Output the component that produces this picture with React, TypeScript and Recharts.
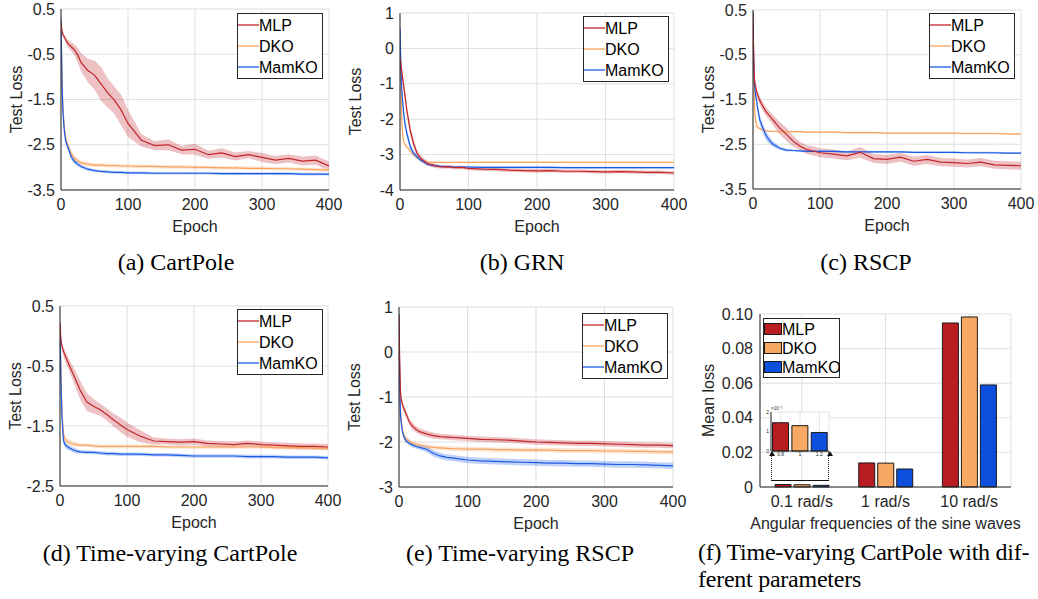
import React from "react";
import {
  ComposedChart,
  BarChart,
  Bar,
  Cell,
  Line,
  Area,
  XAxis,
  YAxis,
  CartesianGrid,
  Legend,
} from "recharts";

// sampled epochs shared by every training curve
const epochs = [0, 1, 2, 3, 5, 7, 10, 15, 20, 25, 30, 40, 50, 60, 70, 80, 90, 100, 120, 140, 160, 180, 200, 220, 240, 260, 280, 300, 320, 340, 360, 380, 400];
const epochTicks = [0, 100, 200, 300, 400];

// (a) CartPole  (mean and half width of the shaded band)
const aMlp = [0.22, 0.06, -0.02, -0.07, -0.12, -0.18, -0.26, -0.33, -0.4, -0.52, -0.68, -0.86, -0.96, -1.16, -1.36, -1.52, -1.74, -2.03, -2.4, -2.52, -2.5, -2.62, -2.6, -2.72, -2.68, -2.76, -2.72, -2.78, -2.84, -2.8, -2.86, -2.84, -2.97];
const aMlpW = [0.02, 0.03, 0.04, 0.05, 0.06, 0.07, 0.08, 0.1, 0.12, 0.16, 0.2, 0.26, 0.32, 0.38, 0.32, 0.3, 0.34, 0.3, 0.14, 0.1, 0.12, 0.09, 0.12, 0.09, 0.1, 0.09, 0.08, 0.1, 0.09, 0.09, 0.1, 0.1, 0.1];
const aDko = [0.2, -0.6, -1.3, -1.7, -2.1, -2.35, -2.5, -2.69, -2.8, -2.86, -2.9, -2.93, -2.95, -2.95, -2.96, -2.96, -2.97, -2.97, -2.98, -2.98, -2.99, -2.99, -3.0, -3.0, -3.01, -3.01, -3.02, -3.02, -3.03, -3.03, -3.04, -3.05, -3.06];
const aDkoW = [0.02, 0.08, 0.1, 0.1, 0.09, 0.08, 0.07, 0.06, 0.06, 0.05, 0.05, 0.05, 0.04, 0.04, 0.04, 0.04, 0.04, 0.04, 0.04, 0.04, 0.04, 0.04, 0.04, 0.04, 0.04, 0.04, 0.04, 0.04, 0.04, 0.04, 0.04, 0.04, 0.04];
const aMam = [0.3, -0.7, -1.4, -1.8, -2.2, -2.42, -2.54, -2.76, -2.87, -2.93, -2.98, -3.04, -3.07, -3.09, -3.1, -3.11, -3.11, -3.12, -3.12, -3.13, -3.13, -3.13, -3.13, -3.13, -3.14, -3.14, -3.14, -3.14, -3.14, -3.14, -3.15, -3.15, -3.15];
const aMamW = [0.02, 0.08, 0.1, 0.1, 0.09, 0.08, 0.07, 0.06, 0.05, 0.05, 0.04, 0.04, 0.03, 0.03, 0.03, 0.03, 0.03, 0.03, 0.03, 0.03, 0.03, 0.03, 0.03, 0.03, 0.03, 0.03, 0.03, 0.03, 0.03, 0.03, 0.03, 0.03, 0.03];

// (b) GRN
const bMlp = [-0.24, -0.4, -0.55, -0.7, -1.0, -1.3, -1.75, -2.32, -2.7, -2.97, -3.1, -3.25, -3.31, -3.35, -3.34, -3.37, -3.36, -3.39, -3.41, -3.42, -3.44, -3.45, -3.46, -3.45, -3.47, -3.47, -3.48, -3.49, -3.48, -3.49, -3.5, -3.5, -3.52];
const bMlpW = [0.05, 0.08, 0.1, 0.12, 0.14, 0.15, 0.15, 0.14, 0.12, 0.1, 0.08, 0.07, 0.06, 0.05, 0.05, 0.05, 0.05, 0.05, 0.05, 0.05, 0.05, 0.05, 0.05, 0.05, 0.05, 0.05, 0.05, 0.05, 0.05, 0.05, 0.05, 0.05, 0.05];
const bDko = [0.3, -0.8, -1.6, -2.2, -2.62, -2.7, -2.78, -2.9, -3.01, -3.09, -3.15, -3.21, -3.22, -3.22, -3.22, -3.22, -3.22, -3.22, -3.22, -3.22, -3.22, -3.22, -3.22, -3.22, -3.22, -3.22, -3.22, -3.22, -3.22, -3.22, -3.22, -3.22, -3.22];
const bDkoW = [0.02, 0.06, 0.08, 0.08, 0.06, 0.05, 0.04, 0.03, 0.03, 0.03, 0.02, 0.02, 0.02, 0.02, 0.02, 0.02, 0.02, 0.02, 0.02, 0.02, 0.02, 0.02, 0.02, 0.02, 0.02, 0.02, 0.02, 0.02, 0.02, 0.02, 0.02, 0.02, 0.02];
const bMam = [0.57, -0.3, -0.9, -1.3, -1.75, -2.1, -2.4, -2.78, -2.97, -3.07, -3.15, -3.27, -3.31, -3.33, -3.34, -3.35, -3.35, -3.35, -3.36, -3.36, -3.36, -3.36, -3.36, -3.36, -3.37, -3.37, -3.37, -3.37, -3.37, -3.37, -3.37, -3.37, -3.37];
const bMamW = [0.05, 0.1, 0.12, 0.12, 0.12, 0.12, 0.12, 0.1, 0.08, 0.06, 0.05, 0.04, 0.03, 0.03, 0.03, 0.03, 0.03, 0.03, 0.03, 0.03, 0.03, 0.03, 0.03, 0.03, 0.03, 0.03, 0.03, 0.03, 0.03, 0.03, 0.03, 0.03, 0.03];

// (c) RSCP
const cMlp = [0.4, -0.5, -1.0, -1.15, -1.3, -1.4, -1.52, -1.66, -1.78, -1.87, -1.96, -2.14, -2.28, -2.43, -2.54, -2.62, -2.65, -2.69, -2.72, -2.76, -2.68, -2.82, -2.84, -2.79, -2.88, -2.84, -2.9, -2.91, -2.93, -2.9, -2.96, -2.97, -2.98];
const cMlpW = [0.03, 0.08, 0.1, 0.1, 0.1, 0.1, 0.1, 0.1, 0.1, 0.1, 0.12, 0.14, 0.15, 0.12, 0.1, 0.1, 0.1, 0.1, 0.1, 0.1, 0.12, 0.1, 0.1, 0.1, 0.1, 0.1, 0.09, 0.09, 0.09, 0.09, 0.09, 0.09, 0.09];
const cDko = [0.3, -0.7, -1.5, -1.85, -2.07, -2.12, -2.15, -2.18, -2.2, -2.21, -2.21, -2.22, -2.22, -2.22, -2.22, -2.23, -2.23, -2.23, -2.23, -2.24, -2.24, -2.24, -2.25, -2.25, -2.25, -2.25, -2.25, -2.25, -2.26, -2.26, -2.26, -2.27, -2.27];
const cDkoW = [0.02, 0.06, 0.08, 0.06, 0.04, 0.03, 0.02, 0.02, 0.02, 0.02, 0.02, 0.02, 0.02, 0.02, 0.02, 0.02, 0.02, 0.02, 0.02, 0.02, 0.02, 0.02, 0.02, 0.02, 0.02, 0.02, 0.02, 0.02, 0.02, 0.02, 0.02, 0.02, 0.02];
const cMam = [0.45, -0.6, -1.13, -1.3, -1.5, -1.7, -1.95, -2.15, -2.32, -2.42, -2.5, -2.59, -2.63, -2.64, -2.65, -2.66, -2.66, -2.66, -2.66, -2.67, -2.67, -2.67, -2.67, -2.67, -2.68, -2.68, -2.68, -2.68, -2.69, -2.69, -2.69, -2.7, -2.7];
const cMamW = [0.03, 0.08, 0.1, 0.1, 0.1, 0.1, 0.11, 0.11, 0.1, 0.08, 0.06, 0.04, 0.03, 0.02, 0.02, 0.02, 0.02, 0.02, 0.02, 0.02, 0.02, 0.02, 0.02, 0.02, 0.02, 0.02, 0.02, 0.02, 0.02, 0.02, 0.02, 0.02, 0.02];

// (d) Time-varying CartPole
const dMlp = [0.22, 0.0, -0.11, -0.17, -0.25, -0.31, -0.39, -0.52, -0.64, -0.77, -0.9, -1.1, -1.17, -1.23, -1.31, -1.4, -1.48, -1.56, -1.67, -1.75, -1.76, -1.77, -1.76, -1.79, -1.8, -1.81, -1.79, -1.81, -1.82, -1.83, -1.84, -1.84, -1.85];
const dMlpW = [0.02, 0.04, 0.05, 0.06, 0.07, 0.08, 0.09, 0.1, 0.12, 0.14, 0.16, 0.15, 0.12, 0.1, 0.1, 0.11, 0.12, 0.12, 0.1, 0.06, 0.05, 0.05, 0.05, 0.05, 0.05, 0.05, 0.05, 0.05, 0.05, 0.05, 0.05, 0.05, 0.05];
const dDko = [0.2, -0.4, -0.9, -1.25, -1.62, -1.7, -1.76, -1.78, -1.8, -1.81, -1.82, -1.82, -1.83, -1.84, -1.84, -1.84, -1.84, -1.84, -1.84, -1.84, -1.85, -1.85, -1.85, -1.85, -1.85, -1.85, -1.85, -1.85, -1.86, -1.86, -1.86, -1.87, -1.87];
const dDkoW = [0.02, 0.06, 0.08, 0.08, 0.07, 0.06, 0.05, 0.05, 0.04, 0.04, 0.03, 0.03, 0.03, 0.03, 0.03, 0.03, 0.03, 0.03, 0.03, 0.03, 0.03, 0.03, 0.03, 0.03, 0.03, 0.03, 0.03, 0.03, 0.03, 0.03, 0.03, 0.03, 0.03];
const dMam = [0.2, -0.5, -1.0, -1.35, -1.73, -1.8, -1.84, -1.87, -1.9, -1.92, -1.93, -1.94, -1.94, -1.95, -1.96, -1.96, -1.97, -1.97, -1.97, -1.98, -1.98, -1.99, -2.0, -2.0, -2.0, -2.0, -2.01, -2.01, -2.01, -2.02, -2.02, -2.02, -2.03];
const dMamW = [0.02, 0.06, 0.08, 0.08, 0.06, 0.05, 0.05, 0.04, 0.04, 0.04, 0.03, 0.03, 0.03, 0.03, 0.03, 0.03, 0.03, 0.03, 0.03, 0.03, 0.03, 0.03, 0.03, 0.03, 0.03, 0.03, 0.03, 0.03, 0.03, 0.03, 0.03, 0.03, 0.03];

// (e) Time-varying RSCP
const eMlp = [0.8, -0.2, -0.84, -1.02, -1.17, -1.25, -1.36, -1.55, -1.66, -1.72, -1.77, -1.82, -1.86, -1.88, -1.89, -1.9, -1.91, -1.92, -1.94, -1.95, -1.96, -1.98, -2.0, -2.01, -2.02, -2.03, -2.03, -2.04, -2.05, -2.06, -2.07, -2.07, -2.08];
const eMlpW = [0.02, 0.06, 0.08, 0.08, 0.08, 0.08, 0.08, 0.08, 0.08, 0.07, 0.07, 0.07, 0.07, 0.06, 0.06, 0.06, 0.06, 0.06, 0.06, 0.06, 0.06, 0.06, 0.06, 0.06, 0.06, 0.06, 0.06, 0.06, 0.06, 0.06, 0.06, 0.06, 0.06];
const eDko = [0.8, -0.5, -1.2, -1.45, -1.73, -1.84, -1.92, -1.98, -2.03, -2.05, -2.07, -2.1, -2.12, -2.13, -2.14, -2.15, -2.15, -2.16, -2.16, -2.17, -2.17, -2.18, -2.18, -2.18, -2.19, -2.19, -2.19, -2.2, -2.2, -2.21, -2.21, -2.22, -2.22];
const eDkoW = [0.02, 0.06, 0.08, 0.08, 0.07, 0.06, 0.05, 0.05, 0.05, 0.05, 0.05, 0.05, 0.05, 0.05, 0.05, 0.05, 0.05, 0.05, 0.05, 0.05, 0.05, 0.05, 0.05, 0.05, 0.05, 0.05, 0.05, 0.05, 0.05, 0.05, 0.05, 0.05, 0.05];
const eMam = [0.85, -0.6, -1.36, -1.55, -1.77, -1.88, -1.97, -2.03, -2.07, -2.1, -2.12, -2.16, -2.25, -2.31, -2.34, -2.36, -2.38, -2.4, -2.42, -2.43, -2.44, -2.45, -2.46, -2.47, -2.47, -2.48, -2.48, -2.49, -2.5, -2.5, -2.51, -2.52, -2.53];
const eMamW = [0.02, 0.06, 0.08, 0.08, 0.07, 0.06, 0.05, 0.05, 0.05, 0.05, 0.05, 0.06, 0.07, 0.07, 0.07, 0.07, 0.07, 0.07, 0.07, 0.07, 0.07, 0.07, 0.07, 0.07, 0.07, 0.07, 0.07, 0.07, 0.07, 0.07, 0.07, 0.07, 0.07];

// (f) mean loss per sine-wave frequency
const freqs = ["0.1 rad/s", "1 rad/s", "10 rad/s"];
const barMlp = [0.00145, 0.0139, 0.0948];
const barDko = [0.0013, 0.0138, 0.0983];
const barMam = [0.00095, 0.0104, 0.059];
const insetTicks = ["0.8", "1", "1.2"];

const ink = "#262626";
const gridColor = "#dfdfdf";
const sans = "'Liberation Sans', Arial, Helvetica, sans-serif";
const serif = "'Liberation Serif', 'Times New Roman', serif";
const lineColors = { mlp: "#c3252b", dko: "#f9a35e", mamko: "#1a5be6" };
const barColors = { mlp: "#b81d22", dko: "#f7a963", mamko: "#0b4fdc" };
const names = { mlp: "MLP", dko: "DKO", mamko: "MamKO" };
const keys: ("mlp" | "dko" | "mamko")[] = ["mlp", "dko", "mamko"];

const LEFT = 62;
const TOP = 12;
const RIGHT = 24;
const BOTTOM = 50;

function buildRows(mlp: number[], mlpW: number[], dko: number[], dkoW: number[], mam: number[], mamW: number[]) {
  return epochs.map((epoch, i) => ({
    epoch,
    mlp: mlp[i],
    dko: dko[i],
    mamko: mam[i],
    mlpBand: [mlp[i] - mlpW[i], mlp[i] + mlpW[i]],
    dkoBand: [dko[i] - dkoW[i], dko[i] + dkoW[i]],
    mamkoBand: [mam[i] - mamW[i], mam[i] + mamW[i]],
  }));
}

const xLabel = (text: string) => (props: any) => {
  const vb = props.viewBox;
  return (
    <text x={vb.x + vb.width / 2} y={vb.y + 42} textAnchor="middle" fontSize={16} fill={ink} fontFamily={sans}>
      {text}
    </text>
  );
};

const yLabel = (text: string, dist: number) => (props: any) => {
  const vb = props.viewBox;
  const cx = vb.x + vb.width - dist;
  const cy = vb.y + vb.height / 2;
  return (
    <text x={cx} y={cy} transform={`rotate(-90 ${cx} ${cy})`} textAnchor="middle" dominantBaseline="central" fontSize={16} fill={ink} fontFamily={sans}>
      {text}
    </text>
  );
};

// legend drawn as svg so the line samples keep their colours
const LineLegendBox = () => (
  <svg width={86} height={66} style={{ display: "block", fontFamily: sans }}>
    <rect x={0.5} y={0.5} width={85} height={65} fill="#fff" stroke={ink} />
    {keys.map((k, i) => (
      <g key={k}>
        <line x1={1} x2={22} y1={12 + i * 21} y2={12 + i * 21} stroke={lineColors[k]} strokeWidth={1.3} />
        <text x={22} y={12 + i * 21} dominantBaseline="central" fontSize={16} fill="#000">
          {names[k]}
        </text>
      </g>
    ))}
  </svg>
);

const BarLegendBox = () => (
  <svg width={77} height={60} style={{ display: "block", fontFamily: sans }}>
    <rect x={0.5} y={0.5} width={76} height={59} fill="#fff" stroke={ink} />
    {keys.map((k, i) => (
      <g key={k}>
        <rect x={1.5} y={5.5 + i * 19} width={17} height={11} fill={barColors[k]} stroke="#1a1a1a" />
        <text x={19} y={11 + i * 19} dominantBaseline="central" fontSize={16} fill="#000">
          {names[k]}
        </text>
      </g>
    ))}
  </svg>
);

interface PanelProps {
  rows: any[];
  x: number;
  y: number;
  w: number;
  h: number;
  yDomain: [number, number];
  yTicks: number[];
  lx: number;
  ly: number;
}

function LinePanel({ rows, x, y, w, h, yDomain, yTicks, lx, ly }: PanelProps) {
  const left = x - LEFT;
  const top = y - TOP;
  return (
    <div style={{ position: "absolute", left, top }}>
      <ComposedChart width={w + LEFT + RIGHT} height={h + TOP + BOTTOM} data={rows} margin={{ top: TOP, right: RIGHT, bottom: 0, left: 0 }} style={{ fontFamily: sans }}>
        <CartesianGrid stroke={gridColor} />
        <XAxis dataKey="epoch" type="number" domain={[0, 400]} ticks={epochTicks} height={BOTTOM} tickSize={0} tickMargin={9} tick={{ fontSize: 16, fill: ink }} axisLine={{ stroke: ink }} allowDataOverflow label={xLabel("Epoch")} />
        <XAxis xAxisId="top" orientation="top" dataKey="epoch" type="number" domain={[0, 400]} height={0} tick={false} tickLine={false} axisLine={{ stroke: ink }} />
        <YAxis type="number" domain={yDomain} ticks={yTicks} width={LEFT} tickSize={0} tickMargin={6} tick={{ fontSize: 16, fill: ink }} axisLine={{ stroke: ink }} allowDataOverflow label={yLabel("Test Loss", 45)} />
        <YAxis yAxisId="right" orientation="right" type="number" domain={yDomain} width={0} tick={false} tickLine={false} axisLine={{ stroke: ink }} />
        {keys.map((k) => (
          <Area key={k + "band"} type="linear" dataKey={k + "Band"} stroke="none" fill={lineColors[k]} fillOpacity={0.28} legendType="none" isAnimationActive={false} />
        ))}
        <Line type="linear" dataKey="dko" stroke={lineColors.dko} strokeWidth={1.2} dot={false} isAnimationActive={false} />
        <Line type="linear" dataKey="mamko" stroke={lineColors.mamko} strokeWidth={1.2} dot={false} isAnimationActive={false} />
        <Line type="linear" dataKey="mlp" stroke={lineColors.mlp} strokeWidth={1.2} dot={false} isAnimationActive={false} />
        <Legend layout="vertical" align="center" verticalAlign="middle" wrapperStyle={{ left: lx - left, top: ly - top, width: 86 }} content={() => <LineLegendBox />} />
      </ComposedChart>
    </div>
  );
}

const barRows = freqs.map((freq, i) => ({ freq, mlp: barMlp[i], dko: barDko[i], mamko: barMam[i] }));
const insetValues = [barMlp[0], barDko[0], barMam[0]];
const insetRows = insetTicks.map((pos, i) => ({ pos, v: insetValues[i] * 1000, key: keys[i] }));

function BarPanel() {
  const x = 760;
  const y = 314;
  const w = 251;
  const h = 173;
  const left = x - LEFT;
  const top = y - TOP;
  return (
    <div style={{ position: "absolute", left, top }}>
      <BarChart width={w + LEFT + RIGHT} height={h + TOP + BOTTOM} data={barRows} margin={{ top: TOP, right: RIGHT, bottom: 0, left: 0 }} barCategoryGap="18%" barGap={3} style={{ fontFamily: sans }}>
        <CartesianGrid stroke={gridColor} />
        <XAxis dataKey="freq" height={BOTTOM} tickSize={0} tickMargin={9} interval={0} tick={{ fontSize: 16, fill: ink }} axisLine={{ stroke: ink }} label={xLabel("Angular frequencies of the sine waves")} />
        <XAxis xAxisId="top" orientation="top" dataKey="freq" height={0} tick={false} tickLine={false} axisLine={{ stroke: ink }} />
        <YAxis type="number" domain={[0, 0.1]} ticks={[0, 0.02, 0.04, 0.06, 0.08, 0.1]} tickFormatter={(v: number) => (v === 0 ? "0" : v.toFixed(2))} width={LEFT} tickSize={0} tickMargin={7} tick={{ fontSize: 16, fill: ink }} axisLine={{ stroke: ink }} label={yLabel("Mean loss", 52)} />
        <YAxis yAxisId="right" orientation="right" type="number" domain={[0, 0.1]} width={0} tick={false} tickLine={false} axisLine={{ stroke: ink }} />
        {keys.map((k) => (
          <Bar key={k} dataKey={k} fill={barColors[k]} stroke="#1a1a1a" strokeWidth={1} isAnimationActive={false} />
        ))}
        <Legend layout="vertical" align="center" verticalAlign="middle" wrapperStyle={{ left: 763 - left, top: 318 - top, width: 77 }} content={() => <BarLegendBox />} />
      </BarChart>
    </div>
  );
}

function Inset() {
  const x = 771;
  const y = 412;
  const w = 58;
  const h = 39;
  const yw = 8;
  return (
    <div style={{ position: "absolute", left: x - yw, top: y - 8 }}>
      <BarChart width={w + yw + 6} height={h + 8 + 8} data={insetRows} margin={{ top: 8, right: 6, bottom: 0, left: 0 }} barCategoryGap="8%" style={{ fontFamily: sans }}>
        <CartesianGrid stroke="#e4e4e4" fill="#fff" />
        <XAxis dataKey="pos" height={8} tickSize={0} tickMargin={1} interval={0} tick={{ fontSize: 5, fill: ink }} axisLine={{ stroke: ink }} />
        <XAxis xAxisId="top" orientation="top" dataKey="pos" height={0} tick={false} tickLine={false} axisLine={{ stroke: ink }} />
        <YAxis type="number" domain={[0, 2]} ticks={[0, 1, 2]} width={yw} tickSize={0} tickMargin={2} tick={{ fontSize: 5, fill: ink }} axisLine={{ stroke: ink }}
          label={(props: any) => (
            <text x={props.viewBox.x + props.viewBox.width} y={props.viewBox.y - 2} fontSize={4.5} fill={ink}>
              ×10⁻³
            </text>
          )}
        />
        <YAxis yAxisId="right" orientation="right" type="number" domain={[0, 2]} width={0} tick={false} tickLine={false} axisLine={{ stroke: ink }} />
        <Bar dataKey="v" stroke="#1a1a1a" strokeWidth={1} isAnimationActive={false}>
          {insetRows.map((r) => (
            <Cell key={r.pos} fill={barColors[r.key]} />
          ))}
        </Bar>
      </BarChart>
    </div>
  );
}

const Caption = ({ cx, cy, text }: { cx: number; cy: number; text: string }) => (
  <div style={{ position: "absolute", left: cx - 200, top: cy - 14, width: 400, textAlign: "center", lineHeight: "28px", fontFamily: serif, fontSize: 24, color: "#000", whiteSpace: "nowrap" }}>
    {text}
  </div>
);

export default function App() {
  const rowsA = buildRows(aMlp, aMlpW, aDko, aDkoW, aMam, aMamW);
  const rowsB = buildRows(bMlp, bMlpW, bDko, bDkoW, bMam, bMamW);
  const rowsC = buildRows(cMlp, cMlpW, cDko, cDkoW, cMam, cMamW);
  const rowsD = buildRows(dMlp, dMlpW, dDko, dDkoW, dMam, dMamW);
  const rowsE = buildRows(eMlp, eMlpW, eDko, eDkoW, eMam, eMamW);
  return (
    <div style={{ position: "absolute", left: 0, top: 0, width: 1038, height: 599, background: "#fff", overflow: "hidden" }}>
      <LinePanel rows={rowsA} x={61} y={9} w={268} h={181} yDomain={[-3.5, 0.5]} yTicks={[0.5, -0.5, -1.5, -2.5, -3.5]} lx={237} ly={13} />
      <LinePanel rows={rowsB} x={400} y={13} w={274} h={177} yDomain={[-4, 1]} yTicks={[1, 0, -1, -2, -3, -4]} lx={583} ly={16} />
      <LinePanel rows={rowsC} x={753} y={10} w={268} h={179} yDomain={[-3.5, 0.5]} yTicks={[0.5, -0.5, -1.5, -2.5, -3.5]} lx={929} ly={13} />
      <LinePanel rows={rowsD} x={60} y={306} w={268} h={180} yDomain={[-2.5, 0.5]} yTicks={[0.5, -0.5, -1.5, -2.5]} lx={237} ly={309} />
      <LinePanel rows={rowsE} x={399} y={307} w={274} h={180} yDomain={[-3, 1]} yTicks={[1, 0, -1, -2, -3]} lx={582} ly={313} />
      <BarPanel />
      <div style={{ position: "absolute", left: 771, top: 452, width: 58, height: 29, borderLeft: "1px dotted #222", borderRight: "1px dotted #222", borderBottom: "1.5px solid #111", boxSizing: "border-box" }} />
      <div style={{ position: "absolute", left: 768.5, top: 451, width: 0, height: 0, borderLeft: "3px solid transparent", borderRight: "3px solid transparent", borderBottom: "5px solid #111" }} />
      <div style={{ position: "absolute", left: 826.5, top: 451, width: 0, height: 0, borderLeft: "3px solid transparent", borderRight: "3px solid transparent", borderBottom: "5px solid #111" }} />
      <Inset />
      <Caption cx={176} cy={262} text="(a) CartPole" />
      <Caption cx={522} cy={262} text="(b) GRN" />
      <Caption cx={866} cy={262} text="(c) RSCP" />
      <Caption cx={170} cy={553} text="(d) Time-varying CartPole" />
      <Caption cx={520} cy={553} text="(e) Time-varying RSCP" />
      <div style={{ position: "absolute", left: 698, top: 539, lineHeight: "27px", fontFamily: serif, fontSize: 24, color: "#000", whiteSpace: "nowrap", letterSpacing: -0.25 }}>
        <div>(f) Time-varying CartPole with dif-</div>
        <div>ferent parameters</div>
      </div>
    </div>
  );
}
